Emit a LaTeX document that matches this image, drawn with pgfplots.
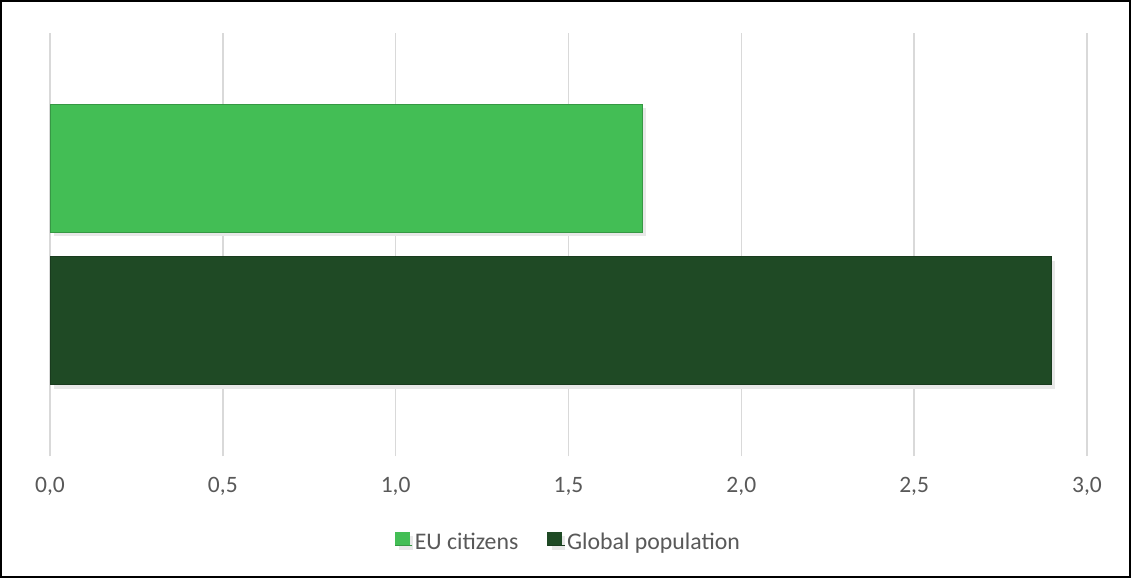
\documentclass[border=0pt]{standalone}
\usepackage{pgfplots}
\pgfplotsset{compat=1.18}
\usepackage{fontspec}
\setmainfont{Carlito}
\usetikzlibrary{shadows}
\definecolor{eu}{RGB}{67,190,85}
\definecolor{glob}{RGB}{31,74,37}
\definecolor{gridc}{RGB}{217,217,217}
\definecolor{txt}{RGB}{89,89,89}
\begin{document}
\begin{tikzpicture}[x=1pt,y=1pt]
\draw[line width=2pt] (1,1) rectangle (1130,577);
\begin{axis}[
  at={(50pt,122pt)}, anchor=south west,
  scale only axis, width=1037pt, height=423pt,
  xmin=0, xmax=3, ymin=-1.39, ymax=1.39,
  xtick={0,0.5,...,3}, ytick=\empty,
  axis line style={draw=none},
  major tick length=0pt,
  xmajorgrids, grid style={gridc, line width=1.5pt},
  xticklabel={\pgfmathprintnumber[fixed,fixed zerofill,precision=1,use comma,assume math mode=true]{\tick}},
  xticklabel style={font=\fontsize{23.5}{28}\selectfont, text=txt, yshift=-18pt},
  legend style={at={(0.5,-0.203)}, anchor=center, draw=none, legend columns=2,
    font=\fontsize{23.8}{28}\selectfont, text=txt,
    /tikz/every even column/.append style={column sep=27pt}},
  clip=false,
]
\addplot[xbar, bar width=0.842, bar shift=0pt, fill=eu, draw=eu!80!black, line width=0.8pt,
  drop shadow={shadow xshift=4pt, shadow yshift=-4pt, fill=black!9, draw=none, opacity=1},
  legend image code/.code={\fill[eu] (0pt,-4pt) rectangle (13.5pt,9.5pt); \path (0pt,-4pt) -- (17pt,-4pt);}]
  coordinates {(1.714,0.5)};
\addlegendentry{EU citizens}
\addplot[xbar, bar width=0.842, bar shift=0pt, fill=glob, draw=glob!80!black, line width=0.8pt,
  drop shadow={shadow xshift=4pt, shadow yshift=-4pt, fill=black!9, draw=none, opacity=1},
  legend image code/.code={\fill[glob] (0pt,-4pt) rectangle (13.5pt,9.5pt); \path (0pt,-4pt) -- (17pt,-4pt);}]
  coordinates {(2.896,-0.5)};
\addlegendentry{Global population}
\end{axis}
\end{tikzpicture}
\end{document}
